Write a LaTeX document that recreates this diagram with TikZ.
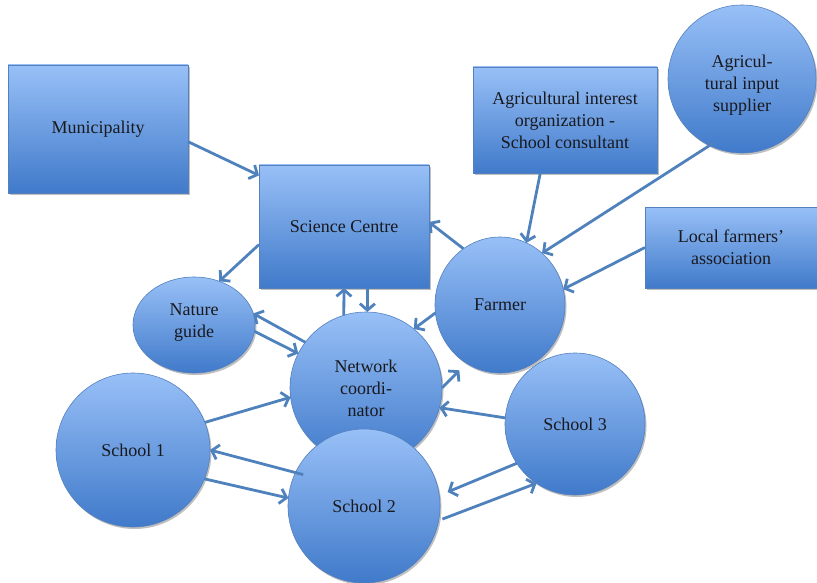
\documentclass[tikz,border=0pt]{standalone}
\usepackage{fontspec}
\setmainfont{Liberation Serif}
\usetikzlibrary{arrows.meta,shapes.geometric,shadows}

\definecolor{boxtop}{RGB}{152,192,247}
\definecolor{boxbot}{RGB}{64,122,202}
\definecolor{rimblue}{RGB}{84,128,190}
\definecolor{arrowblue}{RGB}{79,129,189}
\definecolor{inktext}{RGB}{25,25,30}

\tikzset{
  actor/.style={draw=rimblue, line width=0.6pt, top color=boxtop, bottom color=boxbot,
    inner sep=0pt, outer sep=0pt, align=center, text=inktext,
    font=\fontsize{18}{22}\selectfont,
    drop shadow={shadow xshift=1.5pt, shadow yshift=-2pt, opacity=0.25, fill=black}},
  boxactor/.style={actor, rectangle, minimum width=#1},
  roundactor/.style={actor, ellipse},
  link/.style={draw=arrowblue, line width=2.8pt,
    -{Straight Barb[length=6.5pt,width=15pt]}}
}

\begin{document}
\begin{tikzpicture}[x=1pt,y=-1pt]
\useasboundingbox (0,0) rectangle (817,583);

% actors
\node[roundactor, minimum width=148pt, minimum height=148pt] (ais) at (742,79)
  {\raisebox{-10.5pt}[0pt][0pt]{\begin{tabular}{@{}c@{}}Agricul-\\tural input\\supplier\end{tabular}}};
\node[boxactor=184pt, minimum height=106pt] (aio) at (565,120) {Agricultural interest\\organization -\\School consultant};
\node[boxactor=172pt, minimum height=81pt] (lfa) at (731,247.5) {Local farmers'\\association};
\node[boxactor=180pt, minimum height=128pt] (muni) at (98,129) {Municipality};
\node[boxactor=170pt, minimum height=123pt] (sc) at (344,226.5) {Science Centre};
\node[roundactor, minimum width=130pt, minimum height=136pt] (farmer) at (500,305) {Farmer};
\node[roundactor, minimum width=122pt, minimum height=96pt] (ng) at (194,325)
  {\raisebox{-1.5pt}[0pt][0pt]{\begin{tabular}{@{}c@{}}Nature\\guide\end{tabular}}};
\node[roundactor, minimum width=152pt, minimum height=152pt] (nc) at (366,388) {Network\\coordi-\\nator};
\node[roundactor, minimum width=154pt, minimum height=154pt] (s1) at (133,450) {School 1};
\node[roundactor, minimum width=152pt, minimum height=154pt] (s2) at (364,506) {School 2};
\node[roundactor, minimum width=140pt, minimum height=142pt] (s3) at (575,424) {School 3};

% connectors
\draw[link] (muni.-8.8) -- (sc.149.5);
\draw[link] (sc.-168.2) -- (ng.60.6);
\draw[link] (farmer.123.2) -- (sc.3);
\draw[link] (nc.107) -- (sc.-90.9);
\draw[link] (sc.-69.5) -- (nc.89.2);
\draw[link] (nc.143) -- (ng.11.1);
\draw[link] (ng.-6.5) -- (nc.153.8);
\draw[link] (farmer.-173.2) -- (nc.51.2);
\draw[link, shorten >=10pt] (nc.0) -- (farmer.-120.5);
\draw[link] (s3.175.1) -- (nc.-15.7);
\draw[link] (s1.21.9) -- (nc.-173.2);
\draw[link, shorten <=-8pt] (s2.154.3) -- (s1.-0.5);
\draw[link] (s1.-22.6) -- (s2.174.1);
\draw[link, shorten >=9pt] (s3.-146.3) -- (s2.8.1);
\draw[link, shorten <=4pt] (s2.-11.4) -- (s3.-123.2);
\draw[link] (aio.-115.3) -- (farmer.67.4);
\draw[link, shorten <=-6pt] (ais.-116.9) -- (farmer.51.1);
\draw[link] (lfa.180) -- (farmer.14.2);
\end{tikzpicture}
\end{document}
